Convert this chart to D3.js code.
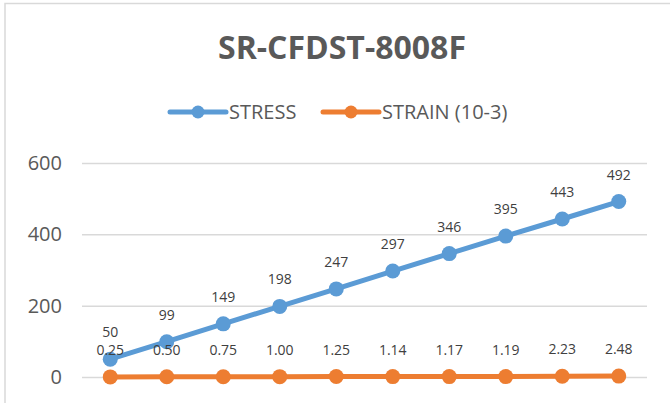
<!DOCTYPE html>
<html>
<head>
<meta charset="utf-8">
<script src="https://cdn.jsdelivr.net/npm/d3@7"></script>
<style>
  html, body { margin: 0; padding: 0; background: #fff; }
  svg { display: block; }
</style>
</head>
<body>
<div id="chart"></div>
<script>
const categories = ['1', '2', '3', '4', '5', '6', '7', '8', '9', '10'];
const stress = [50, 99, 149, 198, 247, 297, 346, 395, 443, 492];
const strain = [0.25, 0.50, 0.75, 1.00, 1.25, 1.14, 1.17, 1.19, 2.23, 2.48];
const yTicks = [0, 200, 400, 600];

const seriesList = [
  { name: 'STRESS', values: stress, color: '#5B9BD5', fmt: d => d3.format('d')(d) },
  { name: 'STRAIN (10-3)', values: strain, color: '#ED7D31', fmt: d => d3.format('.2f')(d) }
];

const width = 670;
const height = 403;
const margin = { top: 163, right: 23, bottom: 26, left: 82 };

const svg = d3.select('#chart')
  .append('svg')
  .attr('width', width)
  .attr('height', height);

// chart frame
svg.append('rect')
  .attr('x', 5)
  .attr('y', 3.5)
  .attr('width', 700)
  .attr('height', 420)
  .attr('fill', '#fff')
  .attr('stroke', '#d9d9d9')
  .attr('stroke-width', 1.5);

const x = d3.scaleBand()
  .domain(categories)
  .range([margin.left, width - margin.right]);

const y = d3.scaleLinear()
  .domain([0, 600])
  .range([height - margin.bottom, margin.top]);

// gridlines + y labels
const yAxis = svg.append('g')
  .attr('transform', `translate(${margin.left},0)`)
  .call(d3.axisLeft(y).tickValues(yTicks).tickSize(-(width - margin.left - margin.right)).tickPadding(20));
yAxis.select('.domain').remove();
yAxis.selectAll('.tick line').attr('stroke', '#d9d9d9').attr('stroke-width', 1.5);
yAxis.selectAll('.tick text')
  .attr('fill', '#595959')
  .style('font-family', '"Open Sans", sans-serif')
  .style('font-size', '20px');

// title
svg.append('text')
  .attr('x', 342)
  .attr('y', 59)
  .attr('text-anchor', 'middle')
  .attr('fill', '#595959')
  .style('font-family', '"Open Sans", sans-serif')
  .style('font-weight', 'bold')
  .style('font-size', '32px')
  .text('SR-CFDST-8008F');

// legend
const legendItems = [
  { x: 170, textX: 229 },
  { x: 323, textX: 382 }
];
seriesList.forEach((s, i) => {
  const g = svg.append('g');
  const lx = legendItems[i].x;
  g.append('line')
    .attr('x1', lx).attr('x2', lx + 56)
    .attr('y1', 112).attr('y2', 112)
    .attr('stroke', s.color)
    .attr('stroke-width', 5)
    .attr('stroke-linecap', 'round');
  g.append('circle')
    .attr('cx', lx + 28).attr('cy', 112).attr('r', 6.5)
    .attr('fill', s.color);
  g.append('text')
    .attr('x', legendItems[i].textX)
    .attr('y', 119)
    .attr('fill', '#595959')
    .style('font-family', '"Open Sans", sans-serif')
    .style('font-size', '20px')
    .text(s.name);
});

const cx = (d, i) => x(categories[i]) + x.bandwidth() / 2;

const line = d3.line()
  .x((d, i) => cx(d, i))
  .y(d => y(d));

// draw strain first so stress sits on top
[seriesList[1], seriesList[0]].forEach(s => {
  svg.append('path')
    .datum(s.values)
    .attr('d', line)
    .attr('fill', 'none')
    .attr('stroke', s.color)
    .attr('stroke-width', 5)
    .attr('stroke-linejoin', 'round');

  svg.append('g')
    .selectAll('circle')
    .data(s.values)
    .enter()
    .append('circle')
    .attr('cx', cx)
    .attr('cy', d => y(d))
    .attr('r', 7.5)
    .attr('fill', s.color);
});

// data labels
seriesList.forEach(s => {
  svg.append('g')
    .selectAll('text')
    .data(s.values)
    .enter()
    .append('text')
    .attr('x', cx)
    .attr('y', d => y(d) - 22)
    .attr('text-anchor', 'middle')
    .attr('fill', '#404040')
    .style('font-family', '"Open Sans", sans-serif')
    .style('font-size', '14px')
    .text(d => s.fmt(d));
});
</script>
</body>
</html>
